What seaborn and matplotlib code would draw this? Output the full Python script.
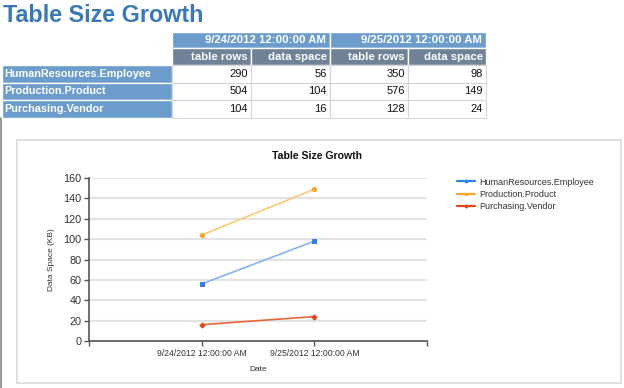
import pandas as pd
import matplotlib.pyplot as plt
import seaborn as sns
from matplotlib.patches import Rectangle
from matplotlib.lines import Line2D

tables = ['HumanResources.Employee', 'Production.Product', 'Purchasing.Vendor']
dates = ['9/24/2012 12:00:00 AM', '9/25/2012 12:00:00 AM']
sub_headers = ['table rows', 'data space']
rows_day1 = [290, 504, 104]
space_day1 = [56, 104, 16]
rows_day2 = [350, 576, 128]
space_day2 = [98, 149, 24]

line_colors = ['#84b4f0', '#fcc977', '#e8673a']
marker_colors = ['#2f7fe6', '#f9a62c', '#e0481a']
marker_shapes = ['s', 'o', 'D']

W, H = 624, 388

sns.set_style('white')
plt.rcParams['font.family'] = ['Liberation Sans', 'DejaVu Sans']

fig = plt.figure(figsize=(W / 100, H / 100), dpi=100)


def fx(x):
    return x / W


def fy(y):
    return 1 - y / H


def cell(x0, y0, x1, y1, face, edge='white', lw=1.0):
    fig.patches.append(Rectangle((fx(x0), fy(y1)), fx(x1) - fx(x0), fy(y0) - fy(y1),
                                 transform=fig.transFigure, facecolor=face,
                                 edgecolor=edge, linewidth=lw, zorder=1))


# page title
fig.text(fx(3), fy(16), 'Table Size Growth', fontsize=16.8, fontweight='bold',
         color='#3a79b8', va='center', ha='left')

# left page edge
fig.add_artist(Line2D([fx(0.5), fx(0.5)], [fy(118), fy(388)], color='#8a8a8a',
                      lw=1.2, transform=fig.transFigure))

# table
col_edges = [2, 172, 251, 330, 408, 486]
row_edges = [32, 48, 65, 83, 100, 118]
hdr_blue = '#6c9ccc'
hdr_gray = '#6f8297'

for i, d in enumerate(dates):
    x0, x1 = col_edges[1 + 2 * i], col_edges[3 + 2 * i]
    cell(x0, row_edges[0], x1, row_edges[1], hdr_blue)
    fig.text(fx(x1 - 4), fy((row_edges[0] + row_edges[1]) / 2), d, color='white',
             fontsize=8.2, fontweight='bold', ha='right', va='center')

for j in range(4):
    x0, x1 = col_edges[1 + j], col_edges[2 + j]
    cell(x0, row_edges[1], x1, row_edges[2], hdr_gray)
    fig.text(fx(x1 - 3), fy((row_edges[1] + row_edges[2]) / 2), sub_headers[j % 2],
             color='white', fontsize=8.2, fontweight='bold', ha='right', va='center')

values = list(zip(rows_day1, space_day1, rows_day2, space_day2))
for r, name in enumerate(tables):
    y0, y1 = row_edges[2 + r], row_edges[3 + r]
    cell(col_edges[0], y0, col_edges[1], y1, hdr_blue)
    fig.text(fx(col_edges[0] + 2), fy((y0 + y1) / 2), name, color='white',
             fontsize=7.8, fontweight='bold', ha='left', va='center')
    for j, v in enumerate(values[r]):
        x0, x1 = col_edges[1 + j], col_edges[2 + j]
        cell(x0, y0, x1, y1, 'white', edge='#d6d6d6', lw=0.8)
        fig.text(fx(x1 - 3), fy((y0 + y1) / 2), str(v), color='#111111',
                 fontsize=8, ha='right', va='center')

# chart frame
cell(17, 140, 621, 383, 'none', edge='#dcdcdc', lw=1.3)

# chart
df = pd.DataFrame({
    'table': tables * 2,
    'pos': [0] * len(tables) + [1] * len(tables),
    'space': space_day1 + space_day2,
})

ax = fig.add_axes([fx(89), fy(341), fx(427) - fx(89), fy(178) - fy(341)])
sns.lineplot(data=df, x='pos', y='space', hue='table', hue_order=tables,
             palette=line_colors, style='table', style_order=tables,
             markers=marker_shapes, dashes=False, linewidth=1.2, markersize=3,
             legend=False, ax=ax)
for ln, mc, m in zip(ax.lines, marker_colors, marker_shapes):
    ln.set_markerfacecolor(mc)
    ln.set_markeredgecolor(mc)
    ln.set_markersize(2.6 if m == 'D' else 3)
    ln.set_zorder(3)

ax.set_xlim(-1, 2)
ax.set_ylim(0, 160)
ax.set_yticks(range(0, 161, 20))
ax.set_xticks([-1, 0, 1, 2])
ax.set_xticklabels([''] + dates + [''], fontsize=6.2, color='#333333')
ax.tick_params(axis='y', labelsize=7.8, labelcolor='#333333')
ax.tick_params(axis='both', direction='out', length=3.5, width=1, color='#555555',
               left=True, bottom=True, pad=2)
ax.grid(axis='y', color='#e3e3e3', linewidth=1.5)
ax.set_axisbelow(True)
for s in ['top', 'right']:
    ax.spines[s].set_visible(False)
for s in ['left', 'bottom']:
    ax.spines[s].set_color('#555555')
    ax.spines[s].set_linewidth(1.2)
ax.set_xlabel('Date', fontsize=6, color='#333333', labelpad=6)
ax.set_ylabel('Data Space (KB)', fontsize=6, color='#333333', labelpad=6)

fig.text(fx(317), fy(156), 'Table Size Growth', fontsize=7.6, fontweight='bold',
         color='#111111', ha='center', va='center')

handles = [Line2D([0], [0], color=mc, lw=1.6, marker=m, markersize=1.5,
                  markerfacecolor=mc, markeredgecolor=mc)
           for mc, m in zip(marker_colors, marker_shapes)]
fig.legend(handles, tables, loc='upper left', bbox_to_anchor=(fx(452), fy(173)),
           frameon=False, fontsize=6.5, handlelength=2.0, handletextpad=0.5,
           labelspacing=0.35, borderpad=0, labelcolor='#333333')

fig.savefig('out.png', dpi=100)
